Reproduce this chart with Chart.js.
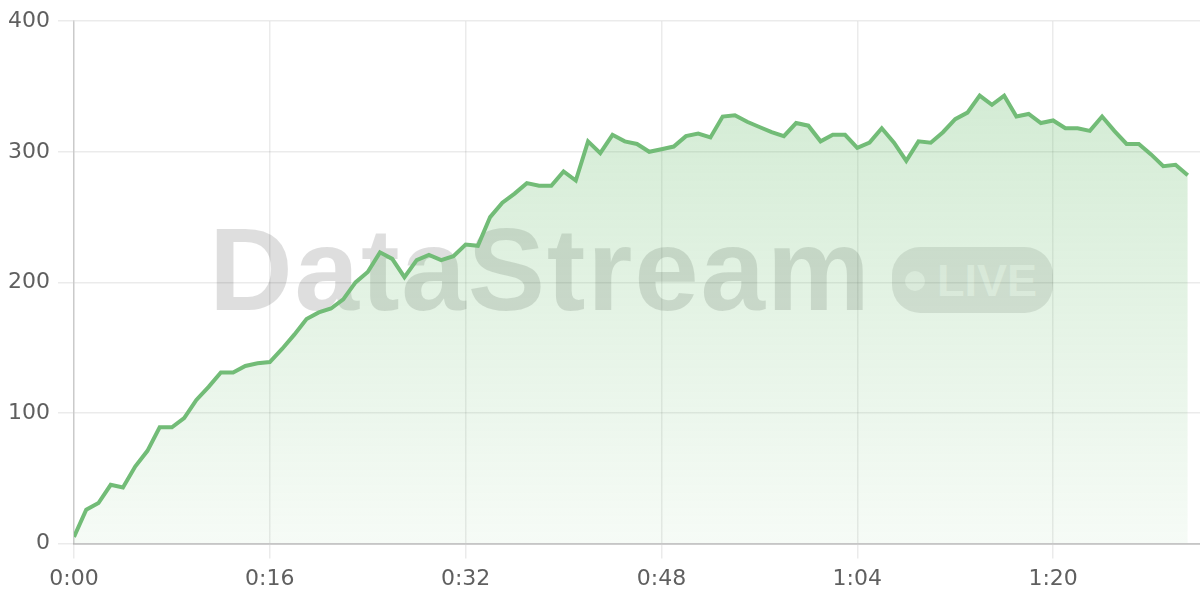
<!DOCTYPE html>
<html>
<head>
<meta charset="utf-8">
<script src="https://cdn.jsdelivr.net/npm/chart.js@4/dist/chart.umd.min.js"></script>
<style>
  html, body { margin: 0; padding: 0; background: #ffffff; }
  #wrap { position: relative; width: 1200px; height: 600px; overflow: hidden; }
  #wm { position: absolute; left: 0; top: 0; width: 1200px; height: 600px; z-index: 0; pointer-events: none; }
  #wmText { position: absolute; left: 209px; top: 212px; font-family: "Liberation Sans", Arial, sans-serif; font-weight: 700; font-size: 116px; line-height: 116px; color: rgba(0,0,0,0.13); letter-spacing: 1.8px; white-space: nowrap; }
  #pill { position: absolute; left: 892px; top: 247px; width: 161px; height: 66px; border-radius: 28px; background: rgba(0,0,0,0.1); }
  #dot { position: absolute; left: 13px; top: 24px; width: 20px; height: 20px; border-radius: 50%; background: rgba(255,255,255,0.6); }
  #live { position: absolute; left: 45px; top: 11px; font-family: "Liberation Sans", Arial, sans-serif; font-weight: 700; font-size: 45px; line-height: 45px; color: rgba(255,255,255,0.6); white-space: nowrap; }
  canvas { position: absolute; left: 0; top: 0; z-index: 1; }
</style>
</head>
<body>
<div id="wrap">
  <div id="wm">
    <div id="wmText">DataStream</div>
    <div id="pill"><div id="dot"></div><div id="live">LIVE</div></div>
  </div>
  <canvas id="c" width="1200" height="600"></canvas>
</div>
<script>
// seconds since start
const seconds = [0,1,2,3,4,5,6,7,8,9,10,11,12,13,14,15,16,17,18,19,20,21,22,23,24,25,26,27,28,29,30,31,32,33,34,35,36,37,38,39,40,41,42,43,44,45,46,47,48,49,50,51,52,53,54,55,56,57,58,59,60,61,62,63,64,65,66,67,68,69,70,71,72,73,74,75,76,77,78,79,80,81,82,83,84,85,86,87,88,89,90,91];
// stream values
const values = [5,26,31,45,43,59,71,89,89,96,110,120,131,131,136,138,139,149,160,172,177,180,187,200,208,223,218,204,217,221,217,220,229,228,250,261,268,276,274,274,285,278,308,299,313,308,306,300,302,304,312,314,311,327,328,323,319,315,312,322,320,308,313,313,303,307,318,307,293,308,307,315,325,330,343,336,343,327,329,322,324,318,318,316,327,316,306,306,298,289,290,282];
const xTickValues = [0,16,32,48,64,80];
const yTickValues = [0,100,200,300,400];

function fmt(s){ const m = Math.floor(s/60); const r = s%60; return m + ':' + (r<10?'0':'') + r; }

const ctx = document.getElementById('c').getContext('2d');
const pts = seconds.map((s,i)=>({x:s,y:values[i]}));

new Chart(ctx, {
  type: 'line',
  data: {
    datasets: [{
      data: pts,
      borderColor: '#72bc77',
      borderWidth: 4,
      pointRadius: 0,
      tension: 0,
      fill: 'origin',
      backgroundColor: function(c){
        const ch = c.chart; const a = ch.chartArea;
        if (!a) return 'rgba(102,187,106,0.2)';
        const g = ch.ctx.createLinearGradient(0, a.top, 0, a.bottom);
        g.addColorStop(0, 'rgba(102,187,106,0.32)');
        g.addColorStop(1, 'rgba(102,187,106,0.06)');
        return g;
      }
    }]
  },
  options: {
    responsive: false,
    animation: false,
    devicePixelRatio: 1,
    layout: { padding: { top: 4, right: 0, bottom: 0, left: 0 } },
    plugins: { legend: { display: false }, tooltip: { enabled: false } },
    scales: {
      x: {
        type: 'linear', min: 0, max: 92,
        afterBuildTicks: function(s){ s.ticks = xTickValues.map(v=>({value:v})); },
        ticks: { callback: v => fmt(v), color: '#5f5f5f', font: { family: 'DejaVu Sans', size: 22, lineHeight: 1.065 }, padding: 9, maxRotation: 0, autoSkip: false },
        grid: { color: 'rgba(0,0,0,0.08)', tickLength: 15, lineWidth: 1.5 },
        border: { color: 'rgba(0,0,0,0.16)', width: 2 }
      },
      y: {
        min: 0, max: 400,
        afterBuildTicks: function(s){ s.ticks = yTickValues.map(v=>({value:v})); },
        ticks: { color: '#5f5f5f', font: { family: 'DejaVu Sans', size: 22 }, padding: 8 },
        grid: { color: 'rgba(0,0,0,0.08)', tickLength: 16, lineWidth: 1.5 },
        border: { color: 'rgba(0,0,0,0.14)', width: 1.5 }
      }
    }
  }
});
</script>
</body>
</html>
